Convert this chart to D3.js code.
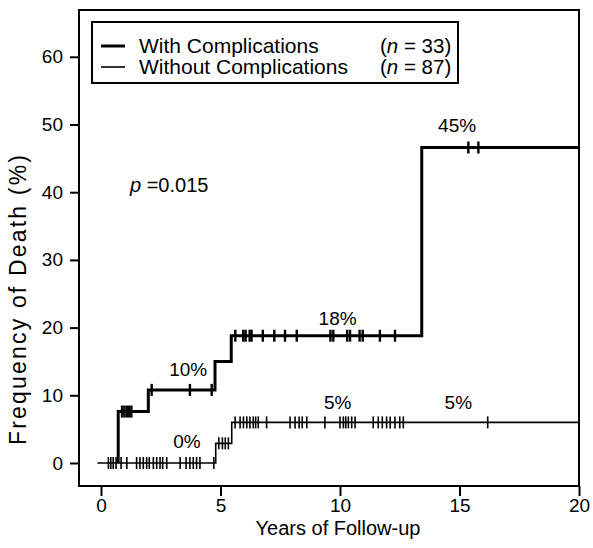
<!DOCTYPE html>
<html>
<head>
<meta charset="utf-8">
<script src="https://cdn.jsdelivr.net/npm/d3@7"></script>
<style>
  html, body { margin: 0; padding: 0; background: #fff; }
  svg { display: block; font-family: "Liberation Sans", Arial, Helvetica, sans-serif; }
</style>
</head>
<body>
<svg id="chart" width="593" height="548"></svg>
<script>
// Cumulative frequency of death, step curves
const withTimes = [0, 0.72, 1.98, 4.77, 5.45, 13.42];
const withRisk = [0, 7.6, 10.8, 15.0, 18.8, 46.6];
const withoutTimes = [0, 4.8, 5.47];
const withoutRisk = [0, 2.9, 6.0];

// censored follow-up times (tick marks)
const withCensored = [0.88, 0.98, 1.08, 1.18, 1.27, 2.12, 3.72, 4.63,
  5.62, 5.95, 6.05, 6.22, 6.3, 6.77, 7.25, 7.7, 8.19, 9.6, 9.72,
  10.3, 10.42, 10.82, 10.95, 11.67, 12.3, 15.37, 15.79];
const withoutCensored = [0.31, 0.41, 0.51, 0.63, 0.84, 1.08, 1.49, 1.63, 1.77,
  1.91, 2.02, 2.19, 2.33, 2.47, 2.58, 2.75, 3.31, 3.56, 3.72, 3.86, 4.0, 4.14, 4.72,
  4.93, 5.08, 5.2, 5.33,
  5.61, 5.82, 5.96, 6.1, 6.23, 6.37, 6.47, 6.58, 6.93, 7.91, 8.12, 8.29, 8.42, 8.61,
  9.37, 10.0, 10.14, 10.24, 10.35, 10.49, 10.63, 11.39, 11.6, 11.77, 11.95, 12.1,
  12.3, 12.5, 12.65, 16.18];

const xTicks = [0, 5, 10, 15, 20];
const yTicks = [0, 10, 20, 30, 40, 50, 60];

// percentage labels: [time, value, text]
const pctLabels = [
  [3.65, 12.9, "10%"], [9.9, 20.4, "18%"], [14.9, 48.9, "45%"],
  [3.6, 2.2, "0%"], [9.9, 8.0, "5%"], [14.95, 8.0, "5%"]
];

const legendNames = ["With Complications", "Without Complications"];
const legendN = ["33", "87"];

const svg = d3.select("#chart");
const frame = { left: 79, right: 579, top: 10, bottom: 486 };

const x = d3.scaleLinear().domain([0, 20]).range([101, 579]);
const y = d3.scaleLinear().domain([0, 60]).range([463, 56.8]);

const stepLine = d3.line().x(d => x(d[0])).y(d => y(d[1])).curve(d3.curveStepAfter);

function stepPoints(times, vals, from) {
  const pts = times.map((t, i) => [t, vals[i]]);
  pts.push([20, vals[vals.length - 1]]);
  if (from != null) pts[0] = [from, vals[0]];
  return pts;
}
function levelAt(times, vals, t) {
  let v = vals[0];
  times.forEach((tt, i) => { if (t >= tt) v = vals[i]; });
  return v;
}

// frame
svg.append("rect")
  .attr("x", frame.left).attr("y", frame.top)
  .attr("width", frame.right - frame.left).attr("height", frame.bottom - frame.top)
  .attr("fill", "none").attr("stroke", "#000").attr("stroke-width", 2);

// x axis
const xAxis = svg.append("g").attr("transform", `translate(0,${frame.bottom})`)
  .call(d3.axisBottom(x).tickValues(xTicks).tickSize(10).tickPadding(3).tickFormat(d3.format("d")));
xAxis.select(".domain").remove();
xAxis.selectAll("line").attr("stroke", "#000").attr("stroke-width", 2);
xAxis.selectAll("text").attr("font-size", 19).attr("font-family", null).attr("fill", "#000");

// y axis
const yAxis = svg.append("g").attr("transform", `translate(${frame.left},0)`)
  .call(d3.axisLeft(y).tickValues(yTicks).tickSize(9).tickPadding(7).tickFormat(d3.format("d")));
yAxis.select(".domain").remove();
yAxis.selectAll("line").attr("stroke", "#000").attr("stroke-width", 2);
yAxis.selectAll("text").attr("font-size", 19).attr("font-family", null).attr("fill", "#000");

// axis titles
svg.append("text")
  .attr("x", 338).attr("y", 535)
  .attr("text-anchor", "middle").attr("font-size", 20)
  .text("Years of Follow-up");
svg.append("text")
  .attr("transform", `translate(26,300) rotate(-90)`)
  .attr("text-anchor", "middle").attr("font-size", 23)
  .attr("textLength", 290).attr("lengthAdjust", "spacing")
  .text("Frequency of Death (%)");

// curves
svg.append("path")
  .datum(stepPoints(withoutTimes, withoutRisk, -0.15))
  .attr("d", stepLine).attr("fill", "none")
  .attr("stroke", "#000").attr("stroke-width", 1.6);
svg.append("path")
  .datum(stepPoints(withTimes, withRisk, withTimes[1]))
  .attr("d", stepLine).attr("fill", "none")
  .attr("stroke", "#000").attr("stroke-width", 3);

// censor ticks
svg.append("g").selectAll("line")
  .data(withoutCensored).join("line")
  .attr("x1", d => x(d)).attr("x2", d => x(d))
  .attr("y1", d => y(levelAt(withoutTimes, withoutRisk, d)) - 6)
  .attr("y2", d => y(levelAt(withoutTimes, withoutRisk, d)) + 6)
  .attr("stroke", "#000").attr("stroke-width", 1.6);
svg.append("g").selectAll("line")
  .data(withCensored).join("line")
  .attr("x1", d => x(d)).attr("x2", d => x(d))
  .attr("y1", d => y(levelAt(withTimes, withRisk, d)) - 6)
  .attr("y2", d => y(levelAt(withTimes, withRisk, d)) + 6)
  .attr("stroke", "#000").attr("stroke-width", 2.4);

// percentage labels
svg.append("g").selectAll("text")
  .data(pctLabels).join("text")
  .attr("x", d => x(d[0])).attr("y", d => y(d[1]))
  .attr("text-anchor", "middle").attr("font-size", 19)
  .text(d => d[2]);

// p value
const pt = svg.append("text").attr("x", 130).attr("y", 192).attr("font-size", 20);
pt.append("tspan").attr("font-style", "italic").text("p");
pt.append("tspan").text(" =0.015");

// legend
const lg = svg.append("g");
lg.append("rect")
  .attr("x", 92).attr("y", 22).attr("width", 366).attr("height", 61)
  .attr("fill", "#fff").attr("stroke", "#000").attr("stroke-width", 2);
legendNames.forEach((name, i) => {
  const ly = 53 + i * 21;
  lg.append("line")
    .attr("x1", 101).attr("x2", 125).attr("y1", ly - 7).attr("y2", ly - 7)
    .attr("stroke", "#000").attr("stroke-width", i === 0 ? 3 : 1.6);
  lg.append("text").attr("x", 139).attr("y", ly).attr("font-size", 21).text(name);
  const nt = lg.append("text").attr("x", 380).attr("y", ly).attr("font-size", 20.5);
  nt.append("tspan").text("(");
  nt.append("tspan").attr("font-style", "italic").text("n");
  nt.append("tspan").text(" = " + legendN[i] + ")");
});
</script>
</body>
</html>
